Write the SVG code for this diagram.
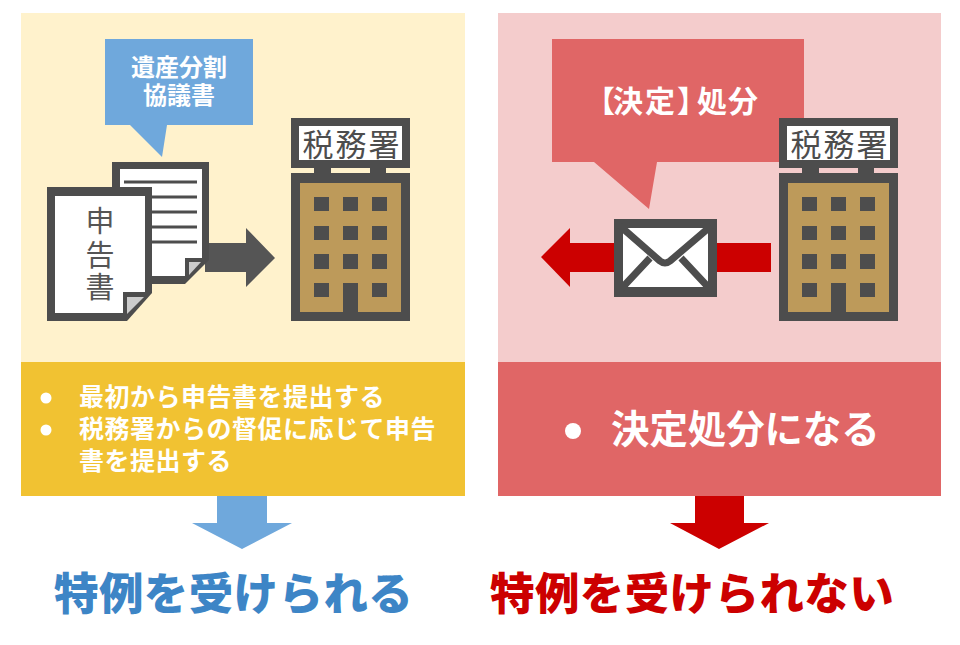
<svg xmlns="http://www.w3.org/2000/svg" xmlns:xlink="http://www.w3.org/1999/xlink" width="960" height="645" viewBox="0 0 960 645">
<style>
text{font-family:"Noto Sans CJK JP","Noto Sans CJK SC",sans-serif}
.w{fill:#fff;font-weight:700}
.d{fill:#4d4d4d}
.sign{fill:#4d4d4d;font-size:31px;font-weight:400;letter-spacing:2px}
.doc{fill:#555;font-size:29px;font-weight:400;text-anchor:middle}
.li{font-size:25px;letter-spacing:.5px}
.h{font-size:44.5px;font-weight:900;letter-spacing:.4px}
.blue{fill:#6fa8dc}.red{fill:#e06666}.dred{fill:#cc0000}
</style>
<defs>
<g id="bld">
<rect class="d" x="291" y="118" width="119" height="50"/>
<rect x="299" y="126" width="103" height="34" fill="#fff"/>
<rect class="d" x="314" y="166" width="17" height="9"/>
<rect class="d" x="370" y="166" width="16" height="9"/>
<rect class="d" x="291" y="173" width="119" height="148"/>
<rect x="300" y="183" width="101" height="129" fill="#bd9a5a"/>
<g class="d">
<path d="M314 197h15v14h-15zM343 197h15v14h-15zM372 197h15v14h-15zM314 226h15v14h-15zM343 226h15v14h-15zM372 226h15v14h-15zM314 254h15v15h-15zM343 254h15v15h-15zM372 254h15v15h-15zM314 283h15v14h-15zM372 283h15v14h-15zM343 283h15v29h-15z"/>
</g>
</g>
</defs>
<rect width="960" height="645" fill="#fff"/>
<g id="panel-left">
<rect x="21" y="13" width="444" height="349" fill="#fff2cc"/>
<rect x="21" y="362" width="444" height="134" fill="#f1c232"/>
<circle cx="46" cy="398" r="5.5" fill="#fff"/>
<circle cx="46" cy="430" r="5.5" fill="#fff"/>
<text class="w li" x="79" y="406">最初から申告書を提出する</text>
<text class="w li" x="79" y="438">税務署からの督促に応じて申告</text>
<text class="w li" x="79" y="470">書を提出する</text>
</g>
<g id="panel-right">
<rect x="498" y="13" width="443" height="349" fill="#f4cccc"/>
<rect x="498" y="362" width="443" height="134" class="red"/>
<circle cx="573" cy="431" r="8" fill="#fff"/>
<text class="w" x="611" y="443" font-size="38.4">決定処分になる</text>
</g>
<g id="connectors">
<path id="arrow-submit" fill="#555" d="M205 243H246V228L275 258 246 287V272H205Z"/>
<path id="arrow-notice" class="dred" d="M771 243V272H570V287L541 257 570 228V243Z"/>
<path id="arrow-down-left" class="blue" d="M217 496H267V523H292L242 549 192 523H217Z"/>
<path id="arrow-down-right" class="dred" d="M695 496H744V523H769L719 549 670 523H695Z"/>
</g>
<g id="callout-left">
<path class="blue" d="M105 39H253V125H167L162 157 130 125H105Z"/>
<text class="w" x="179" y="76" font-size="24" text-anchor="middle">遺産分割</text>
<text class="w" x="179" y="104" font-size="24" text-anchor="middle">協議書</text>
</g>
<g id="callout-right">
<path class="red" d="M552 39H804V162H657L649 209 594 162H552Z"/>
<text class="w" x="585 613 645 677 697 728" y="112" font-size="30">【決定】処分</text>
</g>
<g id="doc-back">
<path class="d" d="M112 162H209V260L185 284H112Z"/>
<path fill="#fff" d="M120 169H202V258H185V276H120Z"/>
<path fill="#ccc" d="M189 262H201L189 275Z"/>
<path stroke="#4d4d4d" stroke-width="3" d="M124 182H197M124 197H197M124 212H197M124 227H197M124 242H197"/>
</g>
<g id="doc-front">
<path class="d" d="M47 187H152V293L127 321H47Z"/>
<path fill="#fff" d="M55 196H145V292H123V313H55Z"/>
<path fill="#ccc" d="M127 297H144L127 314Z"/>
<text class="doc" x="100" y="232">申</text>
<text class="doc" x="100" y="266">告</text>
<text class="doc" x="100" y="298">書</text>
</g>
<g id="building-left">
<use href="#bld" xlink:href="#bld"/>
<text class="sign" x="352" y="156" text-anchor="middle">税務署</text>
</g>
<g id="building-right">
<use href="#bld" xlink:href="#bld" transform="translate(488)"/>
<text class="sign" x="840" y="156" text-anchor="middle">税務署</text>
</g>
<g id="envelope">
<rect class="d" x="614" y="219" width="103" height="78"/>
<rect x="623" y="228" width="85" height="59" fill="#fff"/>
<path fill="none" stroke="#4d4d4d" stroke-width="7" stroke-linejoin="round" d="M620 226L660 261Q665 265 670 261L711 226M621 289L650 258M710 289L681 258"/>
</g>
<g id="results">
<text class="h" x="54" y="610" fill="#3d85c6">特例を受けられる</text>
<text class="h" x="490" y="610" fill="#cc0000">特例を受けられない</text>
</g>
</svg>
